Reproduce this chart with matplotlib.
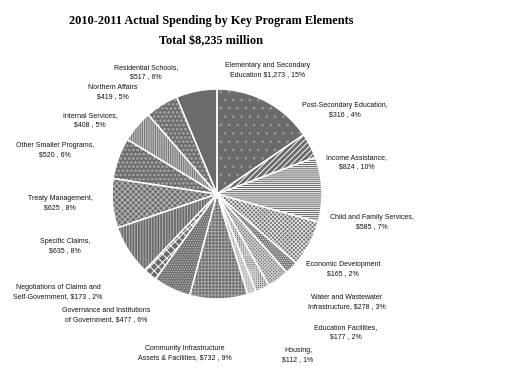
import matplotlib
matplotlib.use("Agg")
import matplotlib.pyplot as plt

labels = [
    "Elementary and Secondary\nEducation $1,273 , 15%",
    "Post-Secondary Education,\n$316 , 4%",
    "Income Assistance,\n$824 , 10%",
    "Child and Family Services,\n$585 , 7%",
    "Economic Development\n$165 , 2%",
    "Water and Wastewater\nInfrastructure, $278 , 3%",
    "Education Facilities,\n$177 , 2%",
    "Housing,\n$112 , 1%",
    "Community Infrastructure\nAssets & Facilities, $732 , 9%",
    "Governance and Institutions\nof Government, $477 , 6%",
    "Negotiations of Claims and\nSelf-Government, $173 , 2%",
    "Specific Claims,\n$635 , 8%",
    "Treaty Management,\n$625 , 8%",
    "Other Smaller Programs,\n$520 , 6%",
    "Internal Services,\n$408 , 5%",
    "Northern Affairs\n$419 , 5%",
    "Residential Schools,\n$517 , 6%",
]
values = [1273, 316, 824, 585, 165, 278, 177, 112, 732, 477, 173, 635, 625, 520, 408, 419, 517]

hatches = ['..', '/' * 6, '-' * 8, 'x' * 8, '.' * 8, 'x' * 10, '+' * 8, '+' * 10, '+' * 5,
           '.' * 7, 'x' * 4, '|' * 6, 'x' * 6, 'o' * 4, '|' * 9, 'o' * 4, '']
hatch_colors = ['#9a9a9a', 'white', 'white', '#e0e0e0', '#e8e8e8', '#d0d0d0', '#d0d0d0',
                '#d0d0d0', '#a8a8a8', '#c0c0c0', 'white', '#b0b0b0', '#b8b8b8',
                '#9a9a9a', '#c8c8c8', '#9a9a9a', '#6b6b6b']
label_pos = [(268, 70), (345, 110), (357, 162), (372, 222), (343, 269), (347, 302),
             (346, 332), (298, 355), (185, 353), (106, 315), (58, 292), (65, 246),
             (60, 203), (55, 150), (90, 120), (113, 92), (146, 72)]

plt.rcParams['hatch.linewidth'] = 0.7

W, H = 528, 379
fig = plt.figure(figsize=(W / 100, H / 100), dpi=100)
cx, cy, r = 217, 194, 107
ax = fig.add_axes([(cx - r) / W, (H - cy - r) / H, 2 * r / W, 2 * r / H])

wedges, _ = ax.pie(values, startangle=90, counterclock=False,
                   wedgeprops=dict(linewidth=0, facecolor='#6b6b6b'))
for w, h, hc in zip(wedges, hatches, hatch_colors):
    w.set_hatch(h)
    w.set_edgecolor(hc)
    w.set_linewidth(0)

ax.pie(values, startangle=90, counterclock=False,
       wedgeprops=dict(linewidth=1.0, edgecolor='white', fill=False))
ax.set_aspect('equal')
ax.set_xlim(-1.02, 1.02)
ax.set_ylim(-1.02, 1.02)

for lab, (x, y) in zip(labels, label_pos):
    fig.text(x / W, 1 - y / H, lab, ha='center', va='center', fontsize=5.0,
             family='Liberation Sans', linespacing=1.3, color='#111111')

fig.text(211 / W, 1 - 21 / H, "2010-2011 Actual Spending by Key Program Elements",
         ha='center', va='center', fontsize=8.8, fontweight='bold', family='Liberation Serif')
fig.text(211 / W, 1 - 41 / H, "Total $8,235 million",
         ha='center', va='center', fontsize=8.8, fontweight='bold', family='Liberation Serif')

fig.savefig("out.png", dpi=100)
